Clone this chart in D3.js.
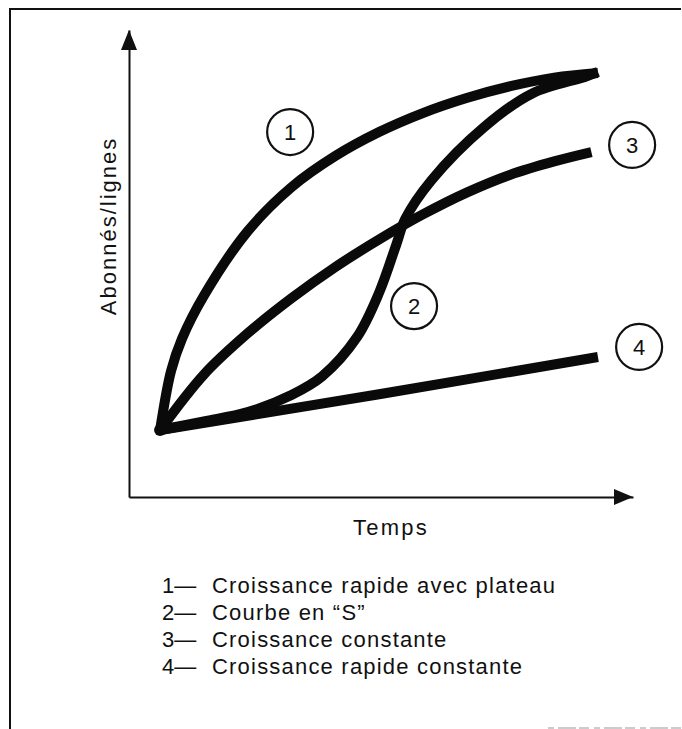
<!DOCTYPE html>
<html>
<head>
<meta charset="utf-8">
<script src="https://cdn.jsdelivr.net/npm/d3@7"></script>
<style>
  body { margin: 0; background: #fff; }
  svg { display: block; }
  text { font-family: "Liberation Sans", Arial, sans-serif; fill: #111; }
</style>
</head>
<body onload="onLoadPage()">
<div id="chart"></div>
<script>
/**
 * growth curves - abonnés / lignes vs temps
 */

var width = 682;
var height = 729;
var svg;

// time runs 0..10, value 0..10 (unitless)
var timePlateau = [0, 0.25, 0.5, 1, 2, 3, 4, 5, 6, 7, 8, 9, 10];
var valuesPlateau = [0, 1.65, 2.55, 3.75, 5.55, 6.78, 7.65, 8.32, 8.85, 9.27, 9.6, 9.84, 9.97];

var timeS = [0, 1, 2, 3, 3.7, 4.5, 5, 5.4, 5.6, 6.2, 7.4, 8.5, 9.7, 10];
var valuesS = [0, 0.24, 0.5, 0.98, 1.5, 2.6, 3.83, 5.2, 5.9, 6.98, 8.46, 9.4, 9.86, 10];

var timeConst = [0, 1, 2, 3, 4, 5, 6, 7, 8, 9, 9.85];
var valuesConst = [0, 1.55, 2.7, 3.68, 4.55, 5.32, 6.02, 6.63, 7.13, 7.5, 7.76];

var timeLinear = [0, 5, 10];
var valuesLinear = [0, 1.0, 2.04];

var curveNumbers = ["1", "2", "3", "4"];
var labelTime = [2.97, 5.8, 10.78, 10.94];
var labelValue = [8.32, 3.46, 7.96, 2.32];

var legendLabels = [
    "Croissance rapide avec plateau",
    "Courbe en \u201CS\u201D",
    "Croissance constante",
    "Croissance rapide constante"
];

var xLabel = "Temps";
var yLabel = "Abonnés/lignes";

function onLoadPage(){
    svg = d3.select("#chart").append("svg")
        .attr("width", width)
        .attr("height", height);
    svg.append("rect").attr("width", width).attr("height", height).attr("fill", "#fff");
    drawFrame();
    drawChart();
    drawLegend();
}

function drawFrame(){
    // scanned page border, top and left
    svg.append("path")
        .attr("d", "M681,9H10V729")
        .attr("fill", "none")
        .attr("stroke", "#111")
        .attr("stroke-width", 2);
    svg.append("line")
        .attr("x1", 548).attr("x2", 682)
        .attr("y1", 728).attr("y2", 728)
        .attr("stroke", "#999")
        .attr("stroke-width", 1)
        .attr("stroke-dasharray", "6,4,18,3,10,5");
}

function drawChart(){
    var x = d3.scaleLinear().domain([-0.71, 10.8]).range([129, 633]);
    var y = d3.scaleLinear().domain([-1.87, 11.17]).range([497, 30]);

    var gx = svg.append("g")
        .attr("transform", "translate(0," + y(-1.87) + ")")
        .call(d3.axisBottom(x).ticks(0).tickSizeOuter(0));
    var gy = svg.append("g")
        .attr("transform", "translate(" + x(-0.71) + ",0)")
        .call(d3.axisLeft(y).ticks(0).tickSizeOuter(0));
    gx.select(".domain").attr("stroke", "#111").attr("stroke-width", 2);
    gy.select(".domain").attr("stroke", "#111").attr("stroke-width", 2);

    // arrow heads
    var xEnd = x(10.8), yBase = y(-1.87);
    svg.append("path")
        .attr("d", "M" + xEnd + "," + yBase + "L" + (xEnd - 19) + "," + (yBase - 8) + "L" + (xEnd - 19) + "," + (yBase + 8) + "Z")
        .attr("fill", "#111");
    var yEnd = y(11.17), xBase = x(-0.71);
    svg.append("path")
        .attr("d", "M" + xBase + "," + yEnd + "L" + (xBase - 8) + "," + (yEnd + 20) + "L" + (xBase + 8) + "," + (yEnd + 20) + "Z")
        .attr("fill", "#111");

    var series = [
        {t: timePlateau, v: valuesPlateau},
        {t: timeS, v: valuesS},
        {t: timeConst, v: valuesConst},
        {t: timeLinear, v: valuesLinear}
    ];

    var line = d3.line()
        .x(function(d){ return x(d[0]); })
        .y(function(d){ return y(d[1]); })
        .curve(d3.curveCatmullRom.alpha(0.5));

    svg.selectAll("path.curve")
        .data(series)
        .enter()
        .append("path")
        .attr("class", "curve")
        .attr("d", function(s){ return line(d3.zip(s.t, s.v)); })
        .attr("fill", "none")
        .attr("stroke", "#0a0a0a")
        .attr("stroke-width", 10)
        .attr("stroke-linejoin", "round")
        .attr("stroke-linecap", "butt");

    // blob where curves start
    svg.append("circle")
        .attr("cx", x(0)).attr("cy", y(0))
        .attr("r", 6)
        .attr("fill", "#0a0a0a");

    // numbered circles
    var labels = svg.selectAll("g.num")
        .data(curveNumbers)
        .enter()
        .append("g")
        .attr("class", "num")
        .attr("transform", function(d, i){ return "translate(" + x(labelTime[i]) + "," + y(labelValue[i]) + ")"; });
    labels.append("circle")
        .attr("r", 23)
        .attr("fill", "#fff")
        .attr("stroke", "#111")
        .attr("stroke-width", 2.2);
    labels.append("text")
        .attr("text-anchor", "middle")
        .attr("dy", "0.36em")
        .style("font-size", "22px")
        .text(function(d){ return d; });

    svg.append("text")
        .attr("x", 391)
        .attr("y", 535)
        .attr("text-anchor", "middle")
        .style("font-size", "22px")
        .style("letter-spacing", "2.2px")
        .text(xLabel);

    svg.append("text")
        .attr("transform", "translate(116,226)rotate(-90)")
        .attr("text-anchor", "middle")
        .style("font-size", "22px")
        .style("letter-spacing", "2px")
        .text(yLabel);
}

function drawLegend(){
    var rows = svg.selectAll("g.legend")
        .data(legendLabels)
        .enter()
        .append("g")
        .attr("class", "legend")
        .attr("transform", function(d, i){ return "translate(162," + (593 + i * 27) + ")"; });
    rows.append("text")
        .style("font-size", "22px")
        .text(function(d, i){ return curveNumbers[i] + "\u2014"; });
    rows.append("text")
        .attr("x", 50)
        .style("font-size", "22px")
        .style("letter-spacing", "1.2px")
        .text(function(d){ return d; });
}
</script>
</body>
</html>
